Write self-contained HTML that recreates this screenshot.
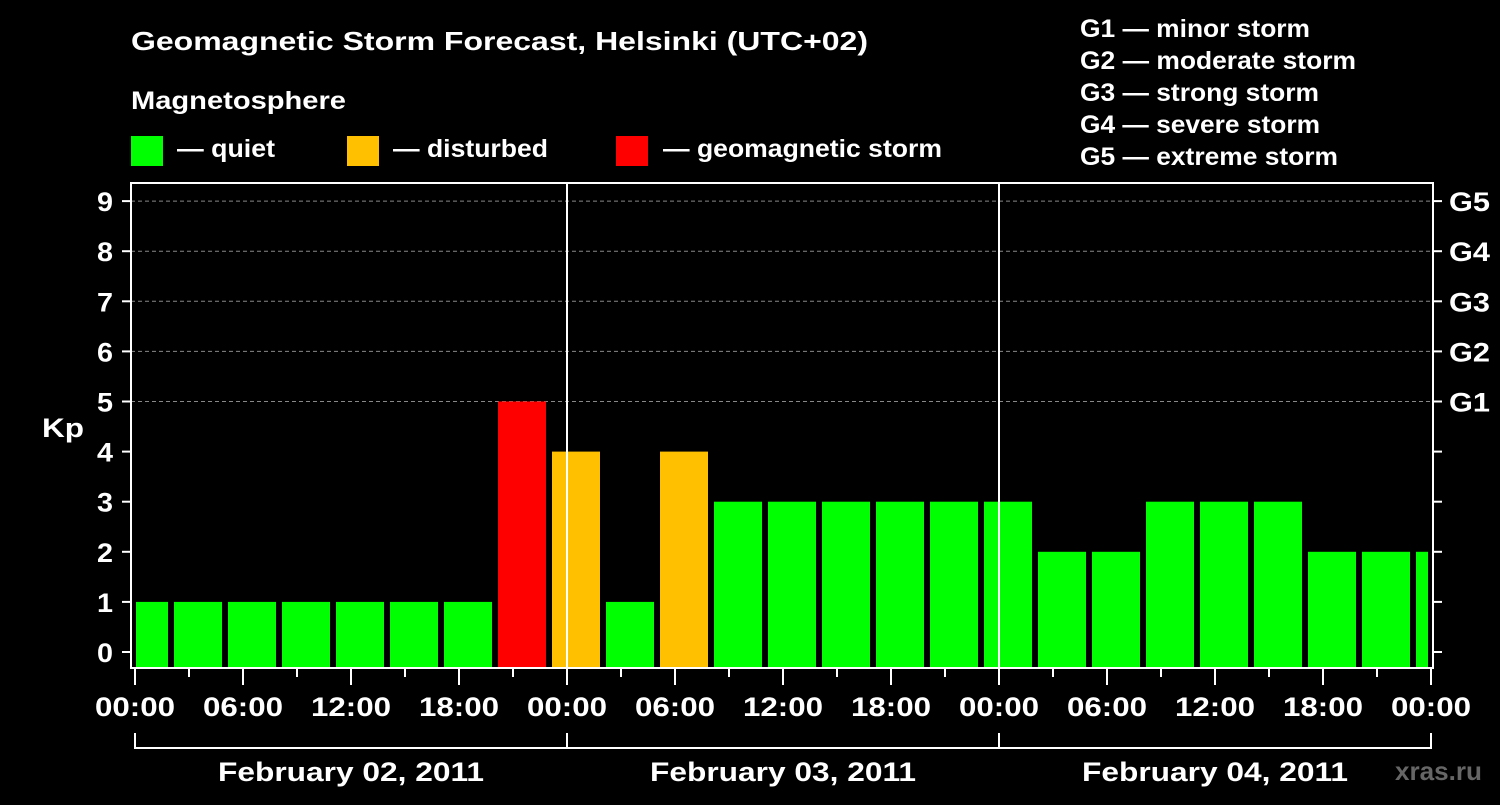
<!DOCTYPE html>
<html><head><meta charset="utf-8"><style>
body{margin:0;background:#000;width:1500px;height:800px;overflow:hidden}
svg text{font-family:"Liberation Sans",Arial,sans-serif;font-weight:bold;fill:#fff}
</style></head><body>
<svg id="chart" width="1500" height="800" xmlns="http://www.w3.org/2000/svg">
<rect width="1500" height="800" fill="#000"/>
<text x="131" y="50" font-size="26" textLength="737" lengthAdjust="spacingAndGlyphs">Geomagnetic Storm Forecast, Helsinki (UTC+02)</text>
<text x="131" y="109" font-size="25" textLength="215" lengthAdjust="spacingAndGlyphs">Magnetosphere</text>
<g><rect x="131" y="136" width="32" height="30" fill="#00ff00"/><text x="177" y="157" font-size="25" textLength="98" lengthAdjust="spacingAndGlyphs">— quiet</text></g>
<g><rect x="347" y="136" width="32" height="30" fill="#ffc000"/><text x="393" y="157" font-size="25" textLength="155" lengthAdjust="spacingAndGlyphs">— disturbed</text></g>
<g><rect x="616" y="136" width="32" height="30" fill="#ff0000"/><text x="663" y="157" font-size="25" textLength="279" lengthAdjust="spacingAndGlyphs">— geomagnetic storm</text></g>
<g font-size="25">
<text x="1080" y="37" textLength="230" lengthAdjust="spacingAndGlyphs">G1 — minor storm</text>
<text x="1080" y="69" textLength="276" lengthAdjust="spacingAndGlyphs">G2 — moderate storm</text>
<text x="1080" y="101" textLength="239" lengthAdjust="spacingAndGlyphs">G3 — strong storm</text>
<text x="1080" y="133" textLength="240" lengthAdjust="spacingAndGlyphs">G4 — severe storm</text>
<text x="1080" y="165" textLength="258" lengthAdjust="spacingAndGlyphs">G5 — extreme storm</text>
</g>
<text x="42" y="437" font-size="27" textLength="42" lengthAdjust="spacingAndGlyphs">Kp</text>
<g id="grid"></g><g id="bars"></g><g id="axes"></g>
<text x="1395" y="780" font-size="26" textLength="87" lengthAdjust="spacingAndGlyphs" style="fill:#666">xras.ru</text>
</svg>
<script>
const kpValues=[1,1,1,1,1,1,1,5,4,1,4,3,3,3,3,3,3,2,2,3,3,3,2,2,2];
const dayLabels=["February 02, 2011","February 03, 2011","February 04, 2011"];
const gLabels=["G1","G2","G3","G4","G5"];
const hourLabels=["00:00","06:00","12:00","18:00"];
const NS="http://www.w3.org/2000/svg";
const x0=135,pxH=18,y0=652,pxK=50.1,bottom=668;
const X=h=>x0+h*pxH, Y=k=>y0-k*pxK;
function mk(t,a,p){const e=document.createElementNS(NS,t);for(const k in a)e.setAttribute(k,a[k]);p.appendChild(e);return e;}
const grid=document.getElementById('grid'),bars=document.getElementById('bars'),axes=document.getElementById('axes');
for(let k=5;k<=9;k++){const l=mk('line',{x1:131,x2:1433,y1:Y(k),y2:Y(k),stroke:'#888','stroke-dasharray':'4,3','stroke-width':1},grid);

}
kpValues.forEach((v,i)=>{
 let s=-1+i*3,e=s+3;let xa=Math.max(X(s)+3,136),xb=Math.min(X(e)-3,1428);
 const c=v>=5?'#ff0000':(v>=4?'#ffc000':'#00ff00');
 const r=mk('rect',{x:xa,y:Y(v),width:xb-xa,height:bottom-Y(v),fill:c},bars);
 
 
});
mk('rect',{x:131,y:183,width:1302,height:485,fill:'none',stroke:'#fff','stroke-width':2},axes);
[24,48].forEach(h=>mk('line',{x1:X(h),x2:X(h),y1:182,y2:668,stroke:'#fff','stroke-width':2},axes));
for(let k=0;k<=9;k++){
 mk('line',{x1:122,x2:131,y1:Y(k),y2:Y(k),stroke:'#fff','stroke-width':2},axes);
 mk('line',{x1:1433,x2:1442,y1:Y(k),y2:Y(k),stroke:'#fff','stroke-width':2},axes);
 const t=mk('text',{x:113,y:Y(k)+10,'font-size':27,'text-anchor':'end',textLength:16,lengthAdjust:'spacingAndGlyphs'},axes);t.textContent=k;
 
 
}
gLabels.forEach((g,i)=>{const t=mk('text',{x:1449,y:Y(5+i)+10,'font-size':27,textLength:41,lengthAdjust:'spacingAndGlyphs'},axes);t.textContent=g;
 
 });
for(let h=0;h<=72;h+=3){
 const maj=h%6==0;
 mk('line',{x1:X(h),x2:X(h),y1:668,y2:maj?685:677,stroke:'#fff','stroke-width':2},axes);
 if(maj){const t=mk('text',{x:X(h)-40,y:716,'font-size':27,textLength:80,lengthAdjust:'spacingAndGlyphs'},axes);t.textContent=hourLabels[(h/6)%4];
 
 }
}
mk('polyline',{points:`${X(0)},733 ${X(0)},748 ${X(72)},748 ${X(72)},733`,fill:'none',stroke:'#fff','stroke-width':2},axes);
[24,48].forEach(h=>mk('line',{x1:X(h),x2:X(h),y1:733,y2:748,stroke:'#fff','stroke-width':2},axes));
dayLabels.forEach((d,i)=>{const t=mk('text',{x:X(i*24+12)-133,y:781,'font-size':27,textLength:266,lengthAdjust:'spacingAndGlyphs'},axes);t.textContent=d;
 
 });
</script>
</body></html>
